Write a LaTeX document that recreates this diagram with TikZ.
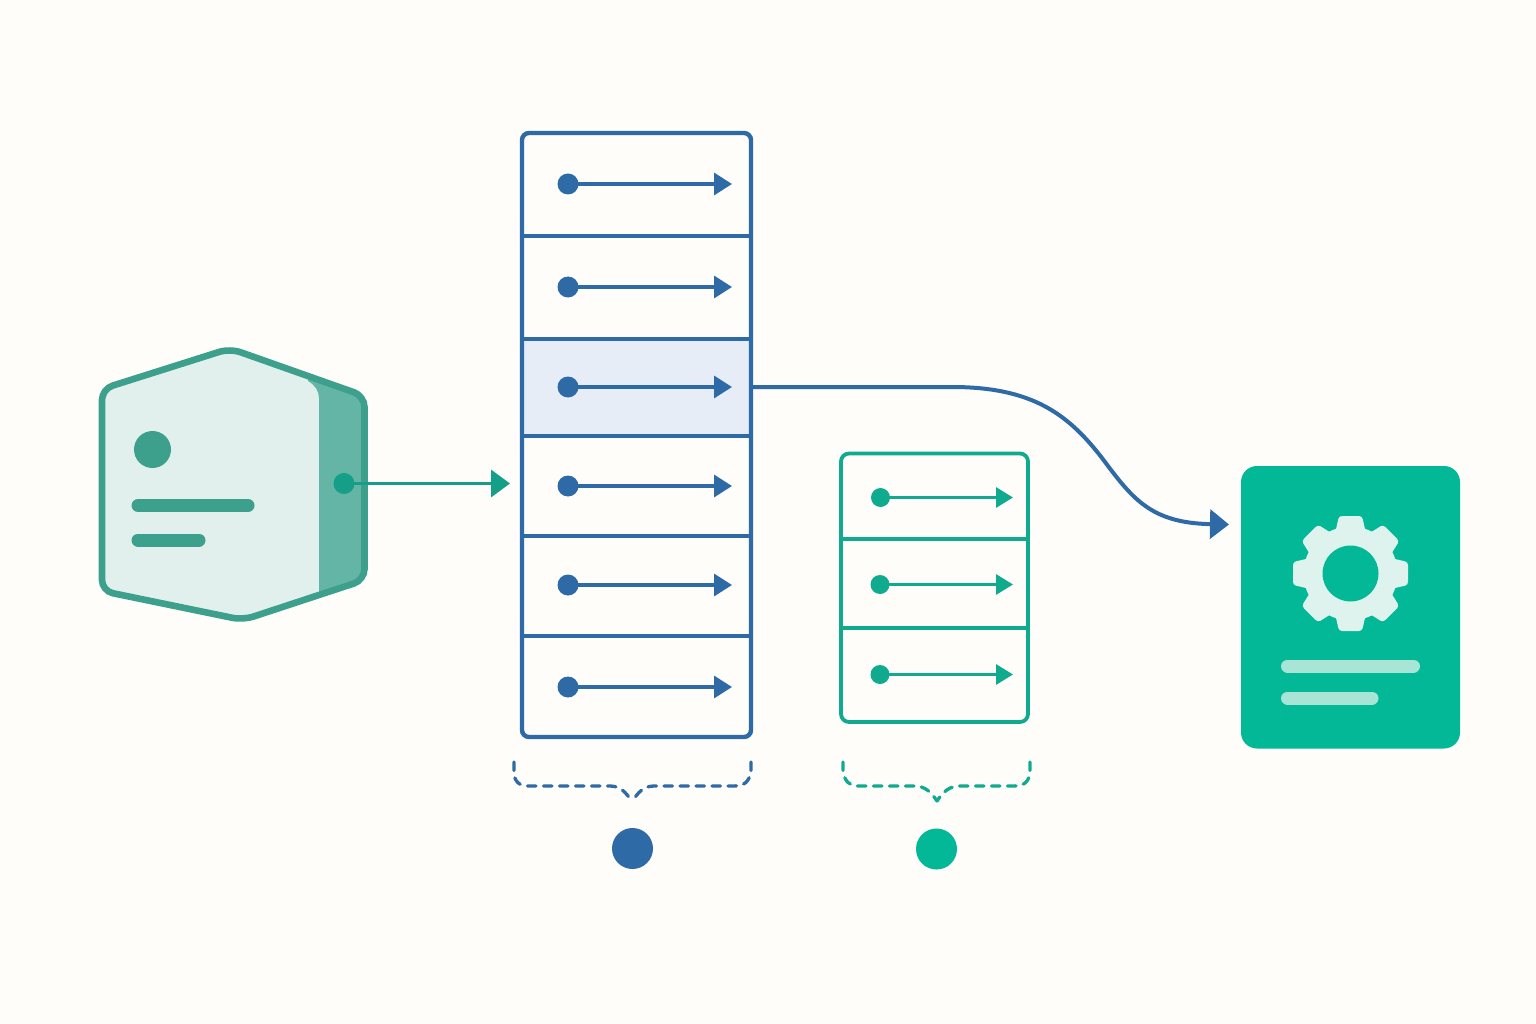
\documentclass[tikz,border=0pt]{standalone}
\usetikzlibrary{arrows.meta}
\definecolor{bgc}{HTML}{FEFDF9}
\definecolor{blu}{HTML}{2E6AA6}
\definecolor{hlc}{HTML}{E6EDF7}
\definecolor{grn}{HTML}{10AB8E}
\definecolor{card}{HTML}{03B896}
\definecolor{hexb}{HTML}{3CA08C}
\definecolor{hexl}{HTML}{E1F0EC}
\definecolor{hexd}{HTML}{64B5A5}
\definecolor{hexa}{HTML}{159F88}
\definecolor{gearc}{HTML}{DFF3EE}
\definecolor{barc}{HTML}{A9E5D7}
\tikzset{
  dot/.style={circle,inner sep=0pt,minimum size=#1},
  rowbox/.style={rectangle,inner sep=0pt,minimum width=229pt},
  bluearrow/.style={draw=blu,line width=3.4pt,-{Triangle[length=18pt,width=22pt]},shorten <=-1pt},
  grnarrow/.style={draw=grn,line width=3.1pt,-{Triangle[length=17pt,width=20pt]},shorten <=-1pt},
  divider/.style={line width=3.4pt},
  bar/.style={line cap=round,line width=#1},
  bracedash/.style={line width=3.3pt,line cap=round,dash pattern=on 8.5pt off 7.5pt},
  tooth/.style={fill=gearc,rounded corners=3pt}
}
\begin{document}
\begin{tikzpicture}[x=1pt,y=-1pt]
\useasboundingbox (0,0) rectangle (1536,1024);
\fill[bgc] (0,0) rectangle (1536,1024);

% source hexagon
\fill[hexl,rounded corners=11pt] (230,348.5) -- (364.5,396) -- (364.5,580) -- (243,620) -- (102,591) -- (102,389) -- cycle;
\begin{scope}
  \clip[rounded corners=11pt] (230,348.5) -- (364.5,396) -- (364.5,580) -- (243,620) -- (102,591) -- (102,389) -- cycle;
  \fill[hexd] (319,600) -- (319,398) .. controls (319,391) and (315,385) .. (308,381) -- (308,370) -- (375,370) -- (375,600) -- cycle;
\end{scope}
\draw[hexb,line width=6.6pt,rounded corners=11pt] (230,348.5) -- (364.5,396) -- (364.5,580) -- (243,620) -- (102,591) -- (102,389) -- cycle;
\node[dot=37pt,fill=hexb] (hexdot) at (152.5,449.5) {};
\draw[hexb,bar=13pt] (138,505.5) -- (248,505.5);
\draw[hexb,bar=13pt] (138,540) -- (199,540);
\node[dot=21pt,fill=hexa] (src) at (344,483.5) {};
\coordinate (srcend) at (510,483.5);
\draw[draw=hexa,line width=3.6pt,-{Triangle[length=19pt,width=27pt]},shorten <=-1pt] (src) -- (srcend);

% blue table
\node[rowbox,minimum height=96pt,fill=hlc] (r3) at (636.5,387) {};
\draw[blu,line width=4.4pt,rounded corners=7pt] (522,133) rectangle (751,737);
\foreach \yy in {236,339,436,536,636} \draw[blu,divider] (522,\yy) -- (751,\yy);
\node[dot=21pt,fill=blu] (b1) at (568,184) {};
\coordinate (bt1) at (732,184);
\node[dot=21pt,fill=blu] (b2) at (568,287) {};
\coordinate (bt2) at (732,287);
\node[dot=21pt,fill=blu] (b3) at (568,387) {};
\coordinate (bt3) at (732,387);
\node[dot=21pt,fill=blu] (b4) at (568,486) {};
\coordinate (bt4) at (732,486);
\node[dot=21pt,fill=blu] (b5) at (568,585) {};
\coordinate (bt5) at (732,585);
\node[dot=21pt,fill=blu] (b6) at (568,687) {};
\coordinate (bt6) at (732,687);
\foreach \i in {1,...,6} \draw[bluearrow] (b\i) -- (bt\i);

% green table
\draw[grn,line width=3.8pt,rounded corners=8pt] (841,453.5) rectangle (1028,722);
\foreach \yy in {539,628} \draw[grn,line width=3.1pt] (841,\yy) -- (1028,\yy);
\node[dot=19pt,fill=grn] (g1) at (880.5,497.5) {};
\coordinate (gt1) at (1013,497.5);
\node[dot=19pt,fill=grn] (g2) at (880,584.5) {};
\coordinate (gt2) at (1013,584.5);
\node[dot=19pt,fill=grn] (g3) at (880,674.5) {};
\coordinate (gt3) at (1013,674.5);
\foreach \i in {1,2,3} \draw[grnarrow] (g\i) -- (gt\i);

% curve to card
\coordinate (cardin) at (1229,524.5);
\draw[blu,line width=4pt,-{Triangle[length=19pt,width=29pt]}] (r3.east) -- (952,387)
  .. controls (1032,387) and (1068,414) .. (1102,458)
  .. controls (1132,498) and (1150,523) .. (cardin);

% card
\fill[card,rounded corners=16pt] (1241,466) rectangle (1460,748.5);
\foreach \a in {0,45,...,315}
  \fill[tooth,shift={(1350.5,573.5)},rotate=\a] (-15.5,-40) -- (-11.5,-57.5) -- (11.5,-57.5) -- (15.5,-40) -- cycle;
\node[dot=94pt,fill=gearc] (gear) at (1350.5,573.5) {};
\node[dot=56pt,fill=card] (gearhole) at (1350.5,573.5) {};
\draw[barc,bar=13pt] (1287.5,666) -- (1413.5,666);
\draw[barc,bar=13pt] (1287.5,698) -- (1372,698);

% braces
\draw[blu,bracedash] (514,762) -- (514,772) .. controls (514,781) and (519,786) .. (528,786)
  -- (610,786) .. controls (620,786) and (626,792) .. (632,802);
\draw[blu,bracedash] (751,762) -- (751,772) .. controls (749,781) and (745,786) .. (734,786)
  -- (654,786) .. controls (644,786) and (638,792) .. (632,802);
\draw[grn,bracedash] (843,762) -- (843,772) .. controls (845,781) and (849,786) .. (858,786)
  -- (914,786) .. controls (925,786) and (931,792) .. (937,801);
\draw[grn,bracedash] (1030,762) -- (1030,772) .. controls (1029,781) and (1025,786) .. (1014,786)
  -- (960,786) .. controls (949,786) and (943,792) .. (937,801);
\node[dot=41pt,fill=blu] (kb) at (632.5,848.5) {};
\node[dot=41pt,fill=card] (kg) at (936.5,849) {};
\end{tikzpicture}
\end{document}
